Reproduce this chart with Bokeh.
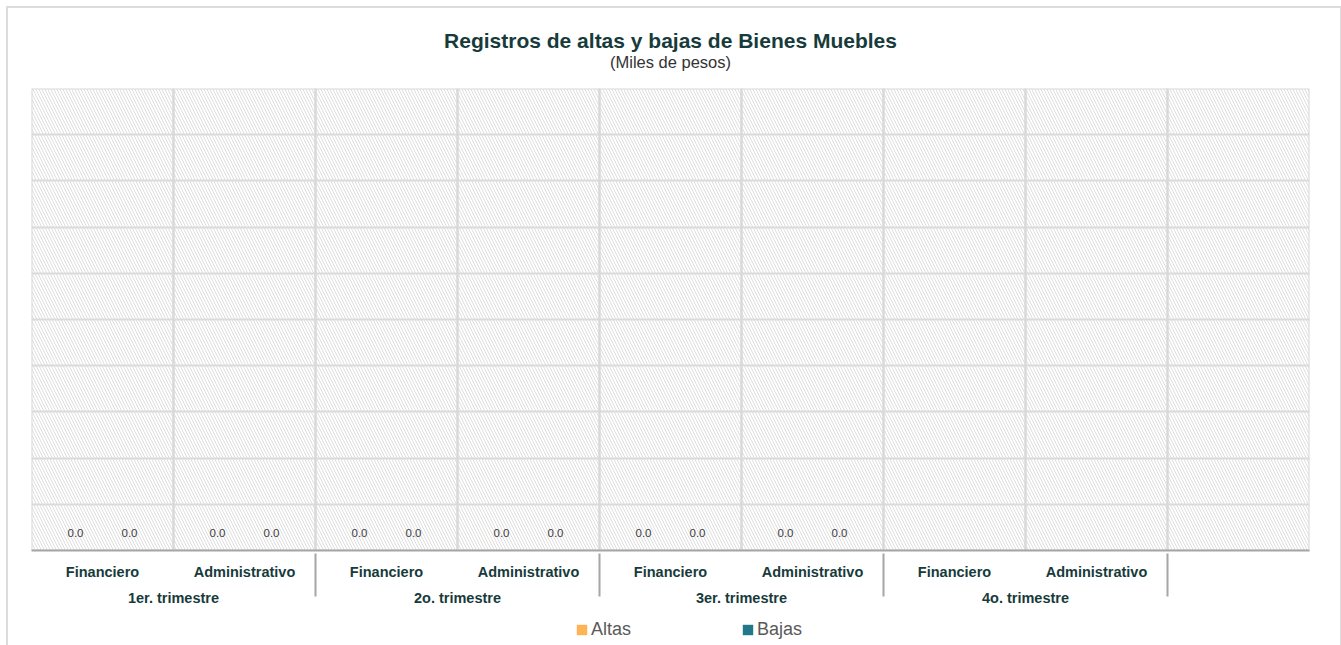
from bokeh.plotting import figure
from bokeh.layouts import column
from bokeh.models import (FactorRange, Range1d, ColumnDataSource, Title, Legend,
                          LegendItem, FixedTicker)
from bokeh.transform import dodge
from bokeh.core.properties import value
from bokeh.embed import file_html
from bokeh.resources import INLINE

# ---------------- data ----------------
quarters = ["1er. trimestre", "2o. trimestre", "3er. trimestre", "4o. trimestre"]
tipos = ["Financiero", "Administrativo"]
# values (miles de pesos) reported for the first six categories
altas = [0.0, 0.0, 0.0, 0.0, 0.0, 0.0]
bajas = [0.0, 0.0, 0.0, 0.0, 0.0, 0.0]
y_ticks = [0.0, 0.1, 0.2, 0.3, 0.4, 0.5, 0.6, 0.7, 0.8, 0.9, 1.0]

FONT = "Liberation Sans"
DARK = "#173b3b"
GRID = "#d9d9d9"
AXIS = "#a6a6a6"
C_ALTAS = "#ffb357"
C_BAJAS = "#22788a"

factors = [(q, t) for q in quarters for t in tipos] + [(" ", " ")]
reported = factors[:len(altas)]

x_range = FactorRange(factors=factors, range_padding=0, group_padding=0,
                      factor_padding=0, subgroup_padding=0)

p = figure(x_range=x_range, y_range=Range1d(y_ticks[0], y_ticks[-1]),
           width=1332, height=607, output_backend="svg", toolbar_location=None,
           min_border_left=23, min_border_right=31, min_border_top=80,
           min_border_bottom=65, outline_line_color=None)

# hatched background cells (one per category)
bg = ColumnDataSource(dict(x=factors, top=[y_ticks[-1]] * len(factors)))
p.vbar(x="x", top="top", bottom=y_ticks[0], width=1, source=bg,
       fill_color=None, hatch_pattern="\\", hatch_color="#dedede",
       hatch_scale=6, hatch_weight=1, line_color=GRID, line_width=2)

src = ColumnDataSource(dict(x=reported, altas=altas, bajas=bajas,
                            altas_lbl=["%.1f" % v for v in altas],
                            bajas_lbl=["%.1f" % v for v in bajas]))

bar_kw = dict(bottom=0, width=0.36, source=src, line_color=None)
p.vbar(x=dodge("x", -0.19, range=x_range), top="altas", fill_color=C_ALTAS, **bar_kw)
p.vbar(x=dodge("x", 0.19, range=x_range), top="bajas", fill_color=C_BAJAS, **bar_kw)

for key, off in (("altas", -0.19), ("bajas", 0.19)):
    p.text(x=dodge("x", off, range=x_range), y=key, text=key + "_lbl",
           source=src, text_align="center", text_baseline="middle",
           y_offset=-18, text_font=value(FONT), text_font_size="11.5px",
           text_color="#404040")

# grid
p.xgrid.grid_line_color = None
p.ygrid.ticker = FixedTicker(ticks=y_ticks)
p.ygrid.grid_line_color = GRID
p.ygrid.grid_line_width = 2

# axes
p.yaxis.visible = False
ax = p.xaxis[0]
ax.axis_line_color = AXIS
ax.axis_line_width = 2
ax.major_tick_line_color = None
ax.minor_tick_line_color = None
ax.major_label_standoff = 7
ax.major_label_text_font = FONT
ax.major_label_text_font_size = "14.5px"
ax.major_label_text_font_style = "bold"
ax.major_label_text_color = DARK
ax.group_text_font = FONT
ax.group_text_font_size = "14.5px"
ax.group_text_font_style = "bold"
ax.group_text_color = DARK
ax.separator_line_color = AXIS
ax.separator_line_width = 2

# titles (first added sits closest to the plot)
p.add_layout(Title(text="(Miles de pesos)", align="center", text_font=FONT,
                   text_font_size="16.5px", text_font_style="normal",
                   text_color="#333333", standoff=36), "above")
p.add_layout(Title(text="Registros de altas y bajas de Bienes Muebles",
                   align="center", text_font=FONT, text_font_size="21px",
                   text_font_style="bold", text_color=DARK, standoff=-38), "above")

# legend strip underneath (shares the category range)
pl = figure(x_range=x_range, y_range=Range1d(0, 1), width=1332, height=30,
            output_backend="svg", toolbar_location=None,
            x_axis_location=None, y_axis_location=None,
            min_border_left=23, min_border_right=31, min_border_top=0,
            min_border_bottom=0, outline_line_color=None)
pl.grid.visible = False
r_a = pl.vbar(x=dodge("x", -0.19, range=x_range), top="altas", fill_color=C_ALTAS, **bar_kw)
r_b = pl.vbar(x=dodge("x", 0.19, range=x_range), top="bajas", fill_color=C_BAJAS, **bar_kw)
legend = Legend(items=[LegendItem(label="Altas", renderers=[r_a]),
                       LegendItem(label="Bajas", renderers=[r_b])],
                orientation="horizontal", location=(544, 5), spacing=110,
                glyph_width=13, glyph_height=13, label_standoff=3,
                label_text_font=FONT, label_text_font_size="18px",
                label_text_color="#595959", border_line_color=None,
                background_fill_alpha=0, padding=0, margin=0)
pl.add_layout(legend, "center")

layout = column(p, pl, spacing=0, margin=(8, 0, 0, 8),
                styles={"box-shadow": "0 0 0 2px #dcdcdc"})

open("out.html", "w").write(file_html(layout, INLINE))
